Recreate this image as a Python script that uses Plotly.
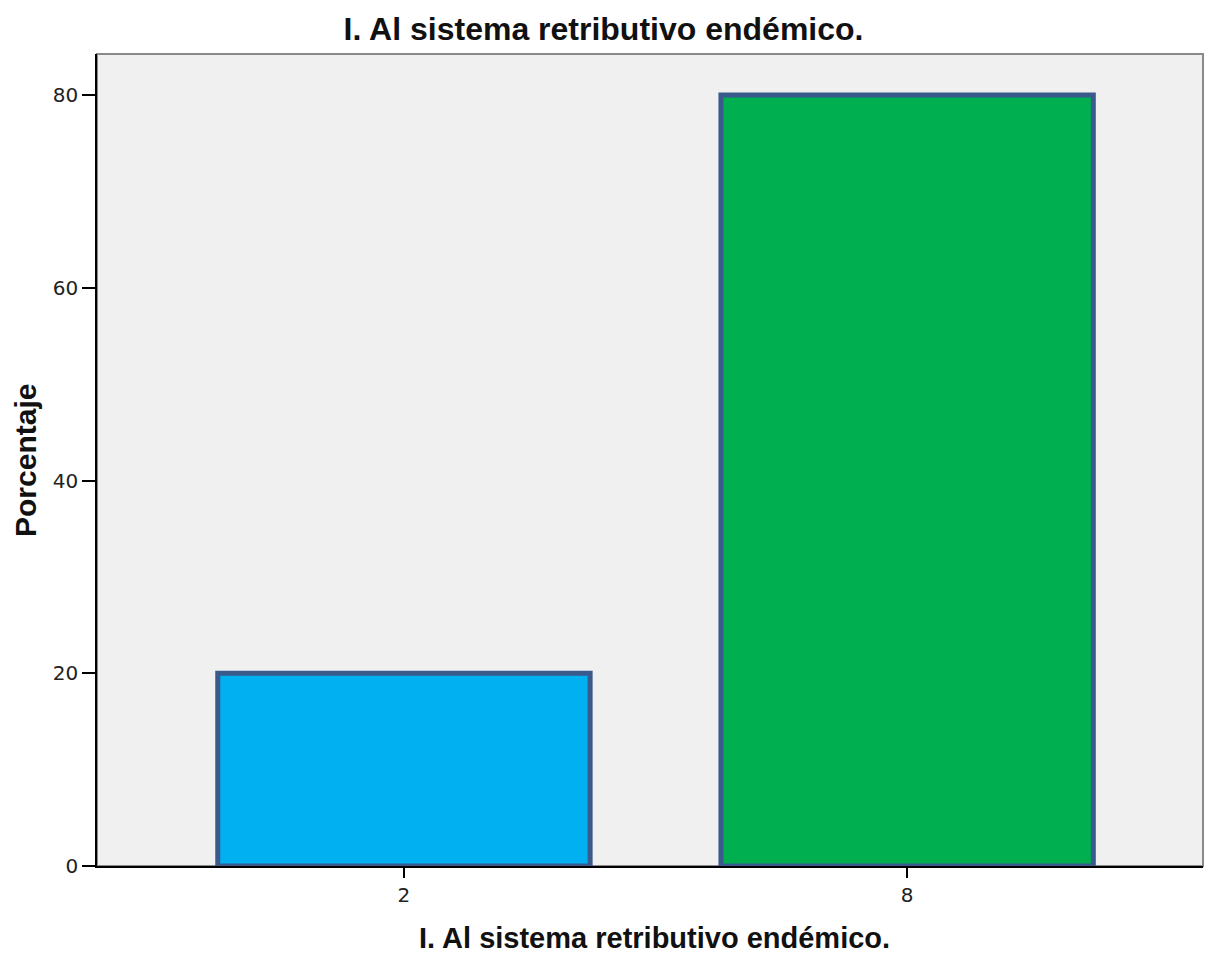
import plotly.graph_objects as go

categories = ["2", "8"]
values = [20, 80]
colors = ["#00b0f0", "#00b050"]
y_ticks = [0, 20, 40, 60, 80]
title_text = "I. Al sistema retributivo endémico."
x_title = "I. Al sistema retributivo endémico."
y_title = "Porcentaje"

fig = go.Figure()
fig.add_trace(go.Bar(
    x=categories, y=values, width=0.74,
    marker=dict(color=colors, line=dict(color="#3b5a8c", width=5)),
    hoverinfo="x+y",
))

FONT = "Liberation Sans, Arial, sans-serif"
TICKFONT = dict(family="DejaVu Sans, sans-serif", size=20, color="#222")
fig.update_layout(
    width=1207, height=946,
    margin=dict(l=89, r=12, t=46, b=88, autoexpand=False),
    paper_bgcolor="white", plot_bgcolor="#f0f0f0",
    showlegend=False,
    font=dict(family=FONT, color="#222"),
    title=dict(text="<b>" + title_text + "</b>", x=0.4934, xanchor="center",
               xref="container", yref="container",
               y=1 - 21 / 946, yanchor="middle", font=dict(size=32, color="#111")),
)
fig.update_xaxes(
    type="category", range=[-0.61, 1.588],
    showline=True, linecolor="black", linewidth=1.5,
    ticks="outside", ticklen=10, tickcolor="black", tickwidth=1.5,
    tickfont=TICKFONT,
    showgrid=False, zeroline=False, automargin=False,
)
fig.update_yaxes(
    range=[0, 84.26], tickvals=y_ticks,
    showline=True, linecolor="black", linewidth=1.5,
    ticks="outside", ticklen=13, tickcolor="black", tickwidth=1.5,
    tickfont=TICKFONT,
    showgrid=False, zeroline=False, automargin=False,
)
fig.add_shape(type="rect", xref="x domain", yref="y domain", x0=0, x1=1, y0=0, y1=1,
              line=dict(color="#8a8a8a", width=2), layer="below")
fig.add_annotation(text="<b>" + x_title + "</b>", xref="paper", yref="paper",
                   x=0.5045, y=-0.0887, xanchor="center", yanchor="middle",
                   showarrow=False, font=dict(size=29, color="#111"))
fig.add_annotation(text="<b>" + y_title + "</b>", xref="paper", yref="paper",
                   x=-0.0651, y=0.5, xanchor="center", yanchor="middle", textangle=-90,
                   showarrow=False, font=dict(size=30, color="#111"))

fig.write_html("out.html")
